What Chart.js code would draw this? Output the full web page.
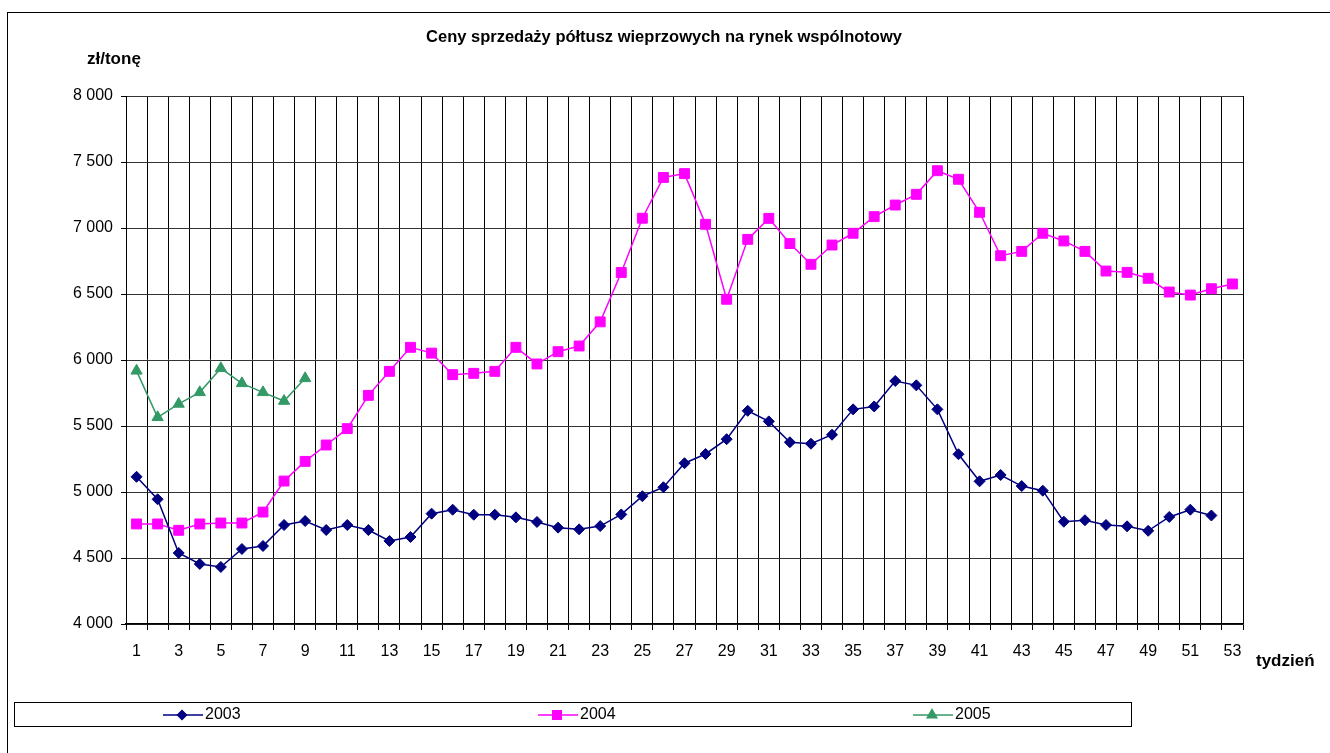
<!DOCTYPE html>
<html>
<head>
<meta charset="utf-8">
<script src="https://cdn.jsdelivr.net/npm/chart.js@4"></script>
<style>
  body { margin: 0; background: #fff; }
  #wrap { width: 1330px; height: 753px; position: relative; }
</style>
</head>
<body>
<div id="wrap"><canvas id="myChart"></canvas></div>
<script>
// tygodnie 1..53
const tygodnie = [];
for (let i = 1; i <= 53; i++) tygodnie.push(String(i));

// ceny zł/tonę
const ceny2003 = [5115, 4945, 4538, 4455, 4432, 4568, 4591, 4750, 4780, 4712,
    4750, 4712, 4629, 4659, 4836, 4866, 4828, 4828, 4808, 4773,
    4730, 4717, 4742, 4830, 4968, 5036, 5218, 5288, 5400, 5615,
    5535, 5377, 5366, 5434, 5626, 5648, 5841, 5808, 5626, 5286,
    5081, 5129, 5045, 5010, 4775, 4786, 4750, 4740, 4706, 4811,
    4866, 4822];
const ceny2004 = [4758, 4758, 4710, 4758, 4765, 4765, 4848, 5083, 5232, 5356,
    5480, 5732, 5914, 6096, 6052, 5889, 5899, 5914, 6096, 5970,
    6063, 6106, 6289, 6663, 7074, 7383, 7412, 7028, 6460, 6914,
    7073, 6882, 6725, 6871, 6960, 7086, 7174, 7255, 7434, 7369,
    7119, 6790, 6823, 6960, 6902, 6823, 6674, 6664, 6619, 6515,
    6492, 6540, 6576];
const ceny2005 = [5918, 5566, 5667, 5755, 5937, 5823, 5755, 5689, 5861];

const osY = { min: 4000, max: 8000, krok: 500 };

function formatTys(v) {
    // 8000 -> "8 000"
    const s = String(v);
    return s.slice(0, s.length - 3) + ' ' + s.slice(s.length - 3);
}

// ramka, tytuly i legenda
const dodatki = {
    id: 'dodatki',
    beforeDraw(chart) {
        const ctx = chart.ctx;
        ctx.save();
        ctx.fillStyle = '#fff';
        ctx.fillRect(0, 0, chart.width, chart.height);
        ctx.strokeStyle = '#000';
        ctx.lineWidth = 1;
        ctx.strokeRect(7.5, 12.5, 1400, 800);
        ctx.restore();
    },
    afterDraw(chart) {
        const ctx = chart.ctx;
        ctx.save();
        ctx.fillStyle = '#000';
        ctx.textBaseline = 'middle';
        ctx.font = 'bold 16.5px "Liberation Sans", Arial, sans-serif';
        ctx.textAlign = 'center';
        ctx.fillText('Ceny sprzedaży półtusz wieprzowych na rynek wspólnotowy', 664, 37);
        ctx.textAlign = 'left';
        ctx.font = 'bold 17px "Liberation Sans", Arial, sans-serif';
        ctx.fillText('zł/tonę', 87, 59);
        ctx.fillText('tydzień', 1256, 661);

        // legenda w ramce
        ctx.strokeStyle = '#000';
        ctx.lineWidth = 1;
        ctx.strokeRect(14.5, 702.5, 1117, 24);
        const startX = [163, 538, 913];
        const ly = 715;
        chart.data.datasets.forEach((ds, i) => {
            const x0 = startX[i];
            ctx.strokeStyle = ds.borderColor;
            ctx.lineWidth = 1.5;
            ctx.beginPath();
            ctx.moveTo(x0, ly);
            ctx.lineTo(x0 + 40, ly);
            ctx.stroke();
            ctx.fillStyle = ds.backgroundColor;
            Chart.helpers.drawPoint(ctx, {
                pointStyle: ds.pointStyle,
                radius: ds.pointRadius - 1,
                borderWidth: 1
            }, x0 + 19, ly);
            ctx.fillStyle = '#000';
            ctx.font = '16px "Liberation Sans", Arial, sans-serif';
            ctx.fillText(ds.label, x0 + 42, ly);
        });
        ctx.restore();
    }
};

const ctx = document.getElementById('myChart').getContext('2d');
const myChart = new Chart(ctx, {
    type: 'line',
    data: {
        labels: tygodnie,
        datasets: [
            {
                label: '2003',
                data: ceny2003,
                borderColor: '#000080',
                backgroundColor: '#000080',
                borderWidth: 1.5,
                pointStyle: 'rectRot',
                pointRadius: 5.5,
                pointBorderWidth: 1,
                tension: 0
            },
            {
                label: '2004',
                data: ceny2004,
                borderColor: '#ff00ff',
                backgroundColor: '#ff00ff',
                borderWidth: 1.5,
                pointStyle: 'rect',
                pointRadius: 7,
                pointBorderWidth: 1,
                tension: 0
            },
            {
                label: '2005',
                data: ceny2005,
                borderColor: '#339966',
                backgroundColor: '#339966',
                borderWidth: 1.5,
                pointStyle: 'triangle',
                pointRadius: 6.5,
                pointBorderWidth: 1,
                tension: 0
            }
        ]
    },
    options: {
        responsive: true,
        maintainAspectRatio: false,
        animation: false,
        layout: {
            padding: { left: 0, top: 96, right: 87, bottom: 84 }
        },
        scales: {
            x: {
                offset: true,
                afterFit: (s) => { s.height = 45; },
                grid: {
                    offset: true,
                    color: '#000',
                    lineWidth: 1,
                    tickLength: 6,
                    tickColor: '#000'
                },
                border: { color: '#000', width: 1.5 },
                ticks: {
                    autoSkip: false,
                    maxRotation: 0,
                    padding: 12,
                    color: '#000',
                    font: { family: '"Liberation Sans", Arial, sans-serif', size: 16 },
                    callback: function (value, index) {
                        return index % 2 === 0 ? this.getLabelForValue(value) : '';
                    }
                }
            },
            y: {
                min: osY.min,
                max: osY.max,
                afterFit: (s) => { s.width = 126; },
                grid: {
                    color: '#333',
                    lineWidth: 1,
                    tickLength: 5,
                    tickColor: '#000'
                },
                border: { color: '#000', width: 1 },
                ticks: {
                    stepSize: osY.krok,
                    padding: 8,
                    color: '#000',
                    font: { family: '"Liberation Sans", Arial, sans-serif', size: 16 },
                    callback: (v) => formatTys(v)
                }
            }
        },
        plugins: {
            legend: { display: false },
            title: { display: false },
            tooltip: { enabled: false }
        }
    },
    plugins: [dodatki]
});
</script>
</body>
</html>
